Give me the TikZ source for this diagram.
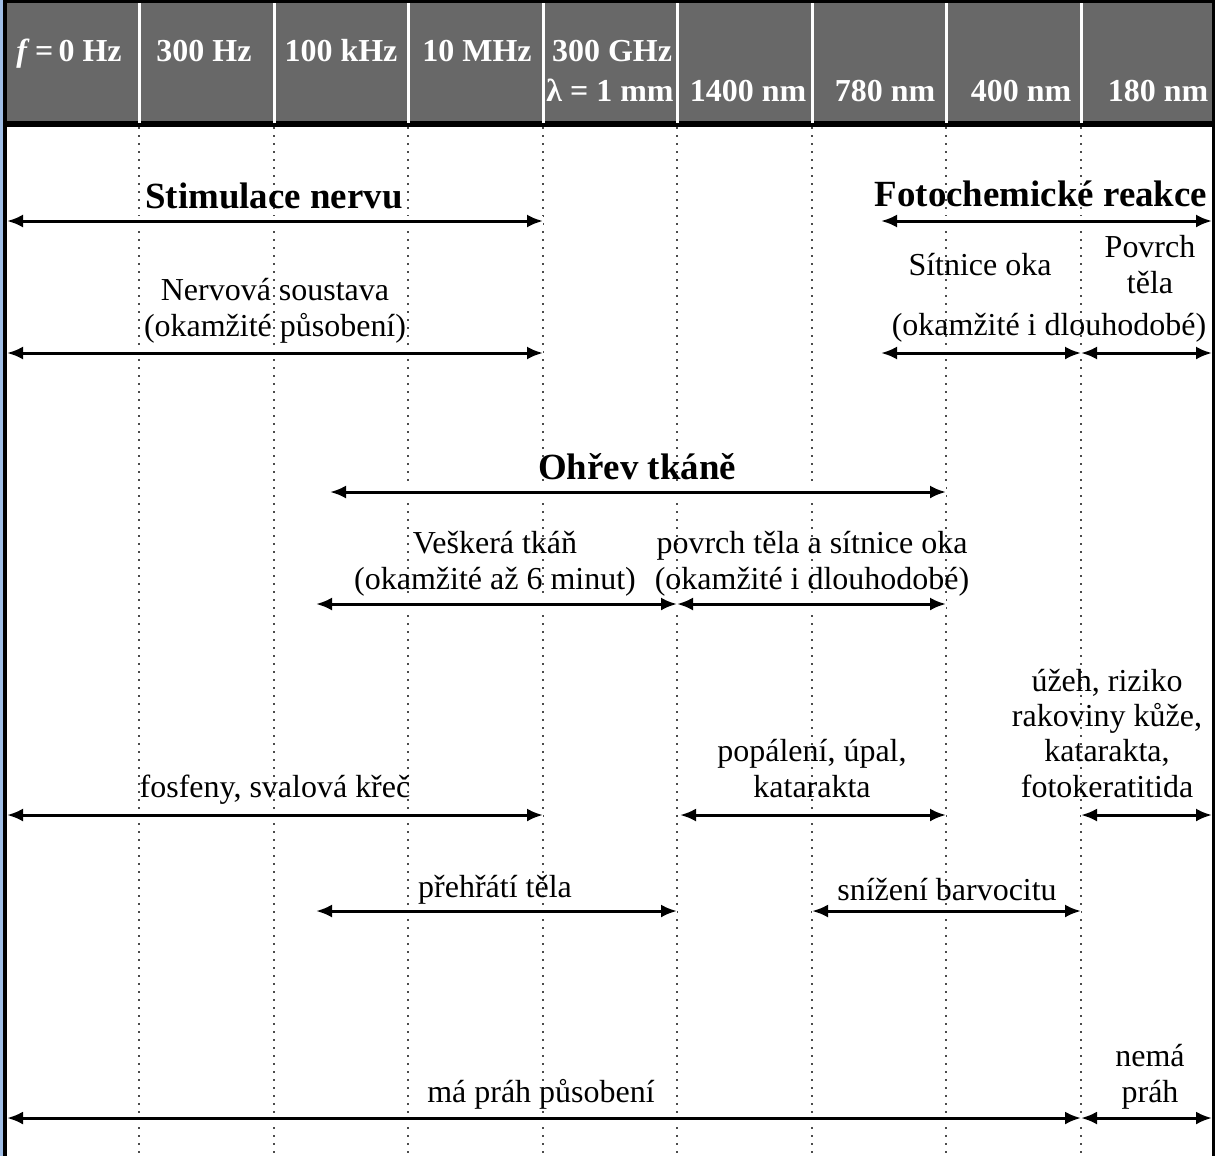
\documentclass[tikz,border=0pt]{standalone}
\usepackage{fontspec}
\setmainfont{Liberation Serif}
\usetikzlibrary{arrows.meta, positioning}
\definecolor{headgray}{RGB}{104,104,104}
\definecolor{edgeblue}{RGB}{160,190,230}

\begin{document}
\begin{tikzpicture}
  [
    x=0.1mm, y=-0.1mm,
    Head/.style={text=white, font=\fontsize{9.1}{10}\selectfont\bfseries, anchor=base, inner sep=0pt},
    Title/.style={font=\fontsize{10.5}{12}\selectfont\bfseries, anchor=base, inner sep=0pt},
    Label/.style={font=\fontsize{9.1}{10}\selectfont, anchor=base, align=center, inner sep=0pt},
    Both/.style={{Latex[length=1.6mm, width=1.3mm]}-{Latex[length=1.6mm, width=1.3mm]}, line width=0.3mm,
                 preaction={draw=white, line width=1mm, -}},
    Grid/.style={draw=black!70, line width=0.2mm, dash pattern=on 0.2mm off 0.6mm},
    Sep/.style={draw=white, line width=0.3mm}
  ]
  \useasboundingbox (0,0) rectangle (1215,1156);

  % Frame and header
  \fill[edgeblue] (0,0) rectangle (3,1156);
  \fill[black] (3,0) rectangle (7,1156);
  \fill[black] (1212,0) rectangle (1215,1156);
  \fill[black] (3,0) rectangle (1215,127);
  \fill[headgray] (7,3) rectangle (1212,121);

  \foreach \x in {139,274,408,543,677,812,946,1081} {
    \draw[Sep] (\x,3) -- (\x,123);
    \draw[Grid] (\x,127) -- (\x,1156);
  }

  % Header labels
  \node[Head] (h0) at (69,61) {\textit{f}\,=\,0 Hz};
  \node[Head] (h1) at (204,61) {300 Hz};
  \node[Head] (h2) at (341,61) {100 kHz};
  \node[Head] (h3) at (477,61) {10 MHz};
  \node[Head] (h4) at (612,61) {300 GHz};
  \node[Head] (h5) at (610,101) {λ = 1 mm};
  \node[Head] (h6) at (748,101) {1400 nm};
  \node[Head] (h7) at (885,101) {780 nm};
  \node[Head] (h8) at (1021,101) {400 nm};
  \node[Head] (h9) at (1158,101) {180 nm};

  % Nodes (multi-line labels sit on their last line)
  \node[Title] (stim) at (274,208) {Stimulace nervu};
  \node[Title] (foto) at (1041,206) {Fotochemické reakce};
  \node[Label] (nerv) at (275,336) {Nervová soustava\\(okamžité působení)};
  \node[Label] (sit) at (980,275) {Sítnice oka};
  \node[Label] (povrch) at (1150,293) {Povrch\\těla};
  \node[Label] (okdl) at (1049,335) {(okamžité i dlouhodobé)};
  \node[Title] (ohrev) at (637,479) {Ohřev tkáně};
  \node[Label] (vesk) at (495,589) {Veškerá tkáň\\(okamžité až 6 minut)};
  \node[Label] (povsit) at (812,589) {povrch těla a sítnice oka\\(okamžité i dlouhodobé)};
  \node[Label] (fosf) at (275,797) {fosfeny, svalová křeč};
  \node[Label] (popal) at (812,797) {popálení, úpal,\\katarakta};
  \node[Label] (uzeh) at (1107,797) {úžeh, riziko\\rakoviny kůže,\\katarakta,\\fotokeratitida};
  \node[Label] (prehr) at (495,897) {přehřátí těla};
  \node[Label] (sniz) at (947,900) {snížení barvocitu};
  \node[Label] (maprah) at (541,1102) {má práh působení};
  \node[Label] (nema) at (1150,1102) {nemá\\práh};

  % Ends
  \coordinate (stimL) at (7,221);    \coordinate (stimR) at (543,221);
  \coordinate (fotoL) at (881,221);  \coordinate (fotoR) at (1212,221);
  \coordinate (nervL) at (7,353);    \coordinate (nervR) at (543,353);
  \coordinate (sitL) at (881,353);   \coordinate (sitR) at (1081,353);
  \coordinate (povR) at (1212,353);
  \coordinate (ohrL) at (330,492);   \coordinate (ohrR) at (946,492);
  \coordinate (veskL) at (316,604);  \coordinate (veskR) at (677,604);
  \coordinate (povsitR) at (946,604);
  \coordinate (fosfL) at (7,815);    \coordinate (fosfR) at (543,815);
  \coordinate (popL) at (680,815);   \coordinate (popR) at (946,815);
  \coordinate (uzL) at (1081,815);   \coordinate (uzR) at (1212,815);
  \coordinate (preL) at (316,911);   \coordinate (preR) at (677,911);
  \coordinate (snL) at (812,911);    \coordinate (snR) at (1081,911);
  \coordinate (maL) at (7,1118);     \coordinate (maR) at (1081,1118);
  \coordinate (neR) at (1212,1118);

  % Lines
  \draw[Both] (stimL) -- (stimR);
  \draw[Both] (fotoL) -- (fotoR);
  \draw[Both] (nervL) -- (nervR);
  \draw[Both] (sitL) -- (sitR);
  \draw[Both] (sitR) -- (povR);
  \draw[Both] (ohrL) -- (ohrR);
  \draw[Both] (veskL) -- (veskR);
  \draw[Both] (veskR) -- (povsitR);
  \draw[Both] (fosfL) -- (fosfR);
  \draw[Both] (popL) -- (popR);
  \draw[Both] (uzL) -- (uzR);
  \draw[Both] (preL) -- (preR);
  \draw[Both] (snL) -- (snR);
  \draw[Both] (maL) -- (maR);
  \draw[Both] (maR) -- (neR);

\end{tikzpicture}
\end{document}
